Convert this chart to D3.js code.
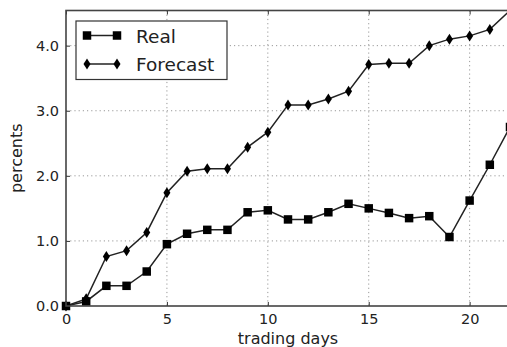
<!DOCTYPE html>
<html>
<head>
<meta charset="utf-8">
<script src="https://d3js.org/d3.v7.min.js"></script>
<style>
  body { margin: 0; background: #fff; }
  text { font-family: "DejaVu Sans", sans-serif; fill: #222; }
</style>
</head>
<body>
<div id="chart"></div>
<script>
// Data
var days = [0, 1, 2, 3, 4, 5, 6, 7, 8, 9, 10, 11, 12, 13, 14, 15, 16, 17, 18, 19, 20, 21, 22];
var realValues = [0, 0.07, 0.31, 0.31, 0.53, 0.95, 1.11, 1.17, 1.17, 1.44, 1.47, 1.33, 1.33, 1.44, 1.57, 1.50, 1.43, 1.35, 1.38, 1.06, 1.62, 2.17, 2.75];
var forecastValues = [0, 0.11, 0.76, 0.85, 1.13, 1.74, 2.07, 2.11, 2.11, 2.44, 2.67, 3.09, 3.09, 3.18, 3.30, 3.71, 3.73, 3.73, 4.00, 4.10, 4.15, 4.25, 4.54];
var xTicks = [0, 5, 10, 15, 20];
var yTicks = [0, 1, 2, 3, 4];
var seriesNames = ["Real", "Forecast"];

// SVG area
var svgWidth = 507;
var svgHeight = 347;

// Plot box (right edge runs past the picture, like the original)
var chartMargin = { top: 10.5, left: 66 };
var chartWidth = 444;
var chartHeight = 295.5;

var svg = d3.select("#chart")
  .append("svg")
  .attr("width", svgWidth)
  .attr("height", svgHeight);

var chartGroup = svg.append("g")
  .attr("transform", `translate(${chartMargin.left}, ${chartMargin.top})`);

// Scales
var xScale = d3.scaleLinear()
  .domain([0, 22])
  .range([0, chartWidth]);

var yScale = d3.scaleLinear()
  .domain([0, 4.54])
  .range([chartHeight, 0]);

// Dotted grid
chartGroup.selectAll(".vgrid")
  .data(xTicks.filter(d => d > 0))
  .enter()
  .append("line")
  .attr("x1", d => xScale(d))
  .attr("x2", d => xScale(d))
  .attr("y1", 0)
  .attr("y2", chartHeight)
  .attr("stroke", "#999")
  .attr("stroke-width", 1)
  .attr("stroke-dasharray", "1.2,3");

chartGroup.selectAll(".hgrid")
  .data(yTicks.filter(d => d > 0))
  .enter()
  .append("line")
  .attr("x1", 0)
  .attr("x2", chartWidth)
  .attr("y1", d => yScale(d))
  .attr("y2", d => yScale(d))
  .attr("stroke", "#999")
  .attr("stroke-width", 1)
  .attr("stroke-dasharray", "1.2,3");

// Axes with inward ticks
var bottomAxis = d3.axisBottom(xScale).tickValues(xTicks).tickFormat(d3.format("d")).tickSizeInner(-4).tickSizeOuter(0).tickPadding(8);
var leftAxis = d3.axisLeft(yScale).tickValues(yTicks).tickFormat(d3.format(".1f")).tickSizeInner(-4).tickSizeOuter(0).tickPadding(7);
var topAxis = d3.axisTop(xScale).tickValues(xTicks).tickFormat("").tickSizeInner(-4).tickSizeOuter(0);

var xAxisG = chartGroup.append("g")
  .attr("transform", `translate(0, ${chartHeight})`)
  .call(bottomAxis);

var yAxisG = chartGroup.append("g")
  .call(leftAxis);

var topAxisG = chartGroup.append("g")
  .call(topAxis);

[xAxisG, yAxisG, topAxisG].forEach(function(g) {
  g.select(".domain").remove();
  g.selectAll(".tick line").attr("stroke", "#333").attr("stroke-width", 1);
  g.selectAll(".tick text")
    .style("font-family", "DejaVu Sans")
    .style("font-size", "14.5px")
    .attr("fill", "#222");
});

// Lines and markers
var line = d3.line()
  .x((d, i) => xScale(days[i]))
  .y(d => yScale(d));

chartGroup.append("path")
  .datum(realValues)
  .attr("d", line)
  .attr("fill", "none")
  .attr("stroke", "#222")
  .attr("stroke-width", 1.5);

chartGroup.append("path")
  .datum(forecastValues)
  .attr("d", line)
  .attr("fill", "none")
  .attr("stroke", "#222")
  .attr("stroke-width", 1.5);

var squareSym = d3.symbol().type(d3.symbolSquare).size(72);
var diamondPath = "M0,-5.5L3.5,0L0,5.5L-3.5,0Z";

chartGroup.selectAll(".sq")
  .data(realValues)
  .enter()
  .append("path")
  .attr("d", squareSym)
  .attr("transform", (d, i) => `translate(${xScale(days[i])}, ${yScale(d)})`)
  .attr("fill", "#000");

chartGroup.selectAll(".dm")
  .data(forecastValues)
  .enter()
  .append("path")
  .attr("d", diamondPath)
  .attr("transform", (d, i) => `translate(${xScale(days[i])}, ${yScale(d)})`)
  .attr("fill", "#000");

// Frame
chartGroup.append("rect")
  .attr("x", 0)
  .attr("y", 0)
  .attr("width", chartWidth)
  .attr("height", chartHeight)
  .attr("fill", "none")
  .attr("stroke", "#444")
  .attr("stroke-width", 1.6);

// Axis labels
svg.append("text")
  .attr("x", 288)
  .attr("y", 344)
  .attr("text-anchor", "middle")
  .style("font-size", "16px")
  .text("trading days");

svg.append("text")
  .attr("transform", `translate(22, ${chartMargin.top + chartHeight / 2}) rotate(-90)`)
  .attr("text-anchor", "middle")
  .style("font-size", "16px")
  .text("percents");

// Legend
var legend = svg.append("g").attr("transform", "translate(76, 21)");

legend.append("rect")
  .attr("width", 151)
  .attr("height", 58.5)
  .attr("fill", "#fff")
  .attr("stroke", "#333")
  .attr("stroke-width", 1.2);

var legendItem = legend.selectAll(".item")
  .data(seriesNames)
  .enter()
  .append("g")
  .attr("transform", (d, i) => `translate(0, ${14.5 + i * 28.5})`);

legendItem.append("line")
  .attr("x1", 11)
  .attr("x2", 41)
  .attr("stroke", "#222")
  .attr("stroke-width", 1.5);

legendItem.each(function(d, i) {
  var g = d3.select(this);
  [11, 41].forEach(function(x) {
    g.append("path")
      .attr("d", i === 0 ? squareSym() : diamondPath)
      .attr("transform", `translate(${x}, 0)`)
      .attr("fill", "#000");
  });
});

legendItem.append("text")
  .attr("x", 60)
  .attr("y", 7)
  .style("font-size", "18.5px")
  .text(d => d);
</script>
</body>
</html>
